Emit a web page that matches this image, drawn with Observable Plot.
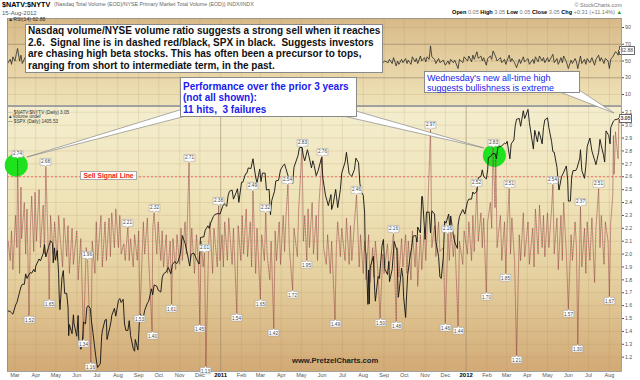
<!DOCTYPE html>
<html><head><meta charset="utf-8">
<script src="https://cdn.jsdelivr.net/npm/d3@7"></script>
<script src="https://cdn.jsdelivr.net/npm/@observablehq/plot@0.6"></script>
<style>
html,body{margin:0;padding:0;background:#fff;}
#root{position:relative;width:640px;height:380px;overflow:hidden;font-family:"Liberation Sans",Arial,sans-serif;}
.abs{position:absolute;white-space:nowrap;}
g[aria-label="tip"] path{filter:none !important;}
.box{position:absolute;background:#fff;border:1px solid #8a8a8a;box-sizing:border-box;white-space:nowrap;}
.leg{position:absolute;left:8px;font-size:4.6px;line-height:4.6px;height:4.6px;color:#333;white-space:nowrap;}
</style></head><body>
<div id="root">
  <div class="abs" style="left:7px;top:18px;width:614px;height:87px;background:linear-gradient(to bottom,#d8b987 0%,#e6d2a4 55%,#efe2b8 100%);"></div>
  <div class="abs" style="left:7px;top:106px;width:614px;height:265px;background:linear-gradient(to bottom,#f4eecf 0%,#efe3b8 35%,#e5d09f 65%,#d2aa76 100%);"></div>
  <div id="plots"></div>
  <svg class="abs" style="left:0;top:0" width="640" height="380">
    <polygon points="186,108 186,116 27,157" fill="#fff" stroke="#888" stroke-width="0.7"/>
    <polygon points="343,116 356,111 484,148" fill="#fff" stroke="#888" stroke-width="0.7"/>
    <polygon points="560,92 576,88 614,113" fill="#fff" stroke="#888" stroke-width="0.7"/>
  </svg>
  <div class="abs" style="left:2px;top:0.5px;font-weight:bold;font-size:7.2px;line-height:7.2px;height:7.2px;color:#000">$NATV:$NYTV</div>
  <div class="abs" style="left:54px;top:1.5px;font-size:5.3px;line-height:5.3px;height:5.3px;color:#666">(Nasdaq Total Volume (EOD)/NYSE Primary Market Total Volume (EOD)) INDX/INDX</div>
  <div class="abs" style="left:2px;top:10px;font-size:6px;line-height:6px;height:6px;color:#555">15-Aug-2012</div>
  <div class="abs" style="right:18px;top:1.5px;font-size:5.5px;line-height:6px;color:#777">© StockCharts.com</div>
  <div class="abs" style="right:18px;top:9px;font-size:5.6px;line-height:6px;color:#777"><b style="color:#000">Open</b> 0.05 <b style="color:#000">High</b> 3.05 <b style="color:#000">Low</b> 0.05 <b style="color:#000">Close</b> 3.05 <b style="color:#000">Chg</b> +0.31 (+11.14%) <span style="color:#1a9a1a">▲</span></div>
  <div class="abs" style="left:8px;top:17px;font-size:5.2px;line-height:5.2px;height:5.2px;color:#333">▲RSI(14) 62.88</div>
  <div class="leg" style="top:110.5px">··· $NATV:$NYTV (Daily) 3.05</div>
  <div class="leg" style="top:115px">▲Volume undef</div>
  <div class="leg" style="top:119.5px">— $SPX (Daily) 1405.53</div>
  <div class="box" style="left:25px;top:24px;width:358px;height:49px;padding:0 0 0 2px;font-weight:bold;font-size:10px;line-height:11.6px;color:#111">Nasdaq volume/NYSE volume ratio suggests a strong sell when it reaches<br>2.6.&nbsp; Signal line is in dashed red/black, SPX in black.&nbsp; Suggests investors<br>are chasing high beta stocks. This has often been a precursor to tops,<br>ranging from short to intermediate term, in the past.</div>
  <div class="box" style="left:180px;top:77px;width:177px;height:40px;padding:2.6px 0 0 2px;font-weight:bold;font-size:10px;line-height:11.7px;color:#1a1aee">Performance over the prior 3 years<br>(not all shown):<br>11 hits,&nbsp; 3 failures</div>
  <div class="box" style="left:424px;top:71px;width:156px;height:22px;padding:0.5px 0 0 2px;font-size:9px;line-height:10px;color:#1a1aee">Wednesday's new all-time high<br>suggests bullishness is extreme</div>
  <div class="box" style="left:80px;top:171px;width:57px;height:9px;font-weight:bold;font-size:6.8px;line-height:7px;color:#ee2020;text-align:center;border-color:#aaa">Sell Signal Line</div>
  <div class="abs" style="left:292px;top:356px;font-weight:bold;font-size:7.6px;line-height:9px;color:#222">www.PretzelCharts.com</div>
</div>
<script>
// ---- data ----
const ratio = [
["2010-02-19",2.10],["2010-02-22",1.95],["2010-02-24",2.18],["2010-02-26",1.88],
["2010-03-02",2.30],["2010-03-04",2.05],["2010-03-05",2.74],["2010-03-08",1.85],["2010-03-10",2.52],["2010-03-11",2.12],["2010-03-15",2.40],["2010-03-17",2.00],["2010-03-19",2.35],["2010-03-22",1.52],["2010-03-24",2.20],["2010-03-26",2.45],["2010-03-29",2.02],["2010-03-31",2.48],
["2010-04-02",2.10],["2010-04-06",2.50],["2010-04-08",2.05],["2010-04-12",2.38],["2010-04-14",2.00],["2010-04-16",2.68],["2010-04-19",2.15],["2010-04-21",1.65],["2010-04-23",2.30],["2010-04-27",2.00],["2010-04-29",2.25],
["2010-05-03",1.95],["2010-05-05",2.30],["2010-05-07",2.15],["2010-05-11",1.90],["2010-05-13",2.28],["2010-05-17",1.98],["2010-05-19",2.22],["2010-05-21",1.85],["2010-05-25",2.20],["2010-05-27",1.92],
["2010-06-01",2.18],["2010-06-03",1.80],["2010-06-07",2.12],["2010-06-09",1.75],["2010-06-11",1.34],["2010-06-15",2.05],["2010-06-17",1.96],["2010-06-22",1.16],["2010-06-24",2.10],["2010-06-28",1.85],["2010-06-30",2.25],
["2010-07-02",1.95],["2010-07-07",2.30],["2010-07-09",1.90],["2010-07-13",2.25],["2010-07-15",1.95],["2010-07-19",2.28],["2010-07-21",1.98],["2010-07-23",2.32],["2010-07-27",2.05],["2010-07-29",2.35],
["2010-08-02",2.05],["2010-08-04",2.30],["2010-08-06",2.00],["2010-08-10",2.08],["2010-08-12",1.95],["2010-08-16",2.21],["2010-08-18",1.95],["2010-08-20",2.12],["2010-08-24",1.90],["2010-08-26",2.15],["2010-08-30",1.95],
["2010-09-01",2.18],["2010-09-03",1.53],["2010-09-08",2.25],["2010-09-10",2.00],["2010-09-14",2.28],["2010-09-16",1.95],["2010-09-21",1.40],["2010-09-22",2.20],["2010-09-24",2.32],["2010-09-28",2.00],["2010-09-30",2.25],
["2010-10-04",1.95],["2010-10-06",2.18],["2010-10-08",1.90],["2010-10-12",2.15],["2010-10-14",1.85],["2010-10-18",2.10],["2010-10-20",1.61],["2010-10-22",2.12],["2010-10-26",1.88],["2010-10-28",2.15],
["2010-11-01",1.92],["2010-11-03",2.20],["2010-11-05",1.95],["2010-11-09",2.25],["2010-11-11",2.00],["2010-11-15",2.71],["2010-11-17",1.95],["2010-11-19",2.20],["2010-11-23",1.85],["2010-11-26",2.15],["2010-11-29",1.90],
["2010-12-01",1.45],["2010-12-03",2.10],["2010-12-06",1.90],["2010-12-08",2.01],["2010-12-10",1.13],["2010-12-14",2.05],["2010-12-16",2.25],["2010-12-20",1.85],["2010-12-22",2.20],["2010-12-27",1.90],["2010-12-29",2.38],["2010-12-31",1.95],
["2011-01-03",2.15],["2011-01-05",1.90],["2011-01-07",2.25],["2011-01-11",1.95],["2011-01-13",2.28],["2011-01-18",1.92],["2011-01-20",2.20],["2011-01-25",1.54],["2011-01-27",2.22],["2011-01-31",1.95],
["2011-02-02",2.30],["2011-02-04",2.00],["2011-02-08",2.35],["2011-02-10",1.98],["2011-02-14",2.25],["2011-02-16",1.90],["2011-02-18",2.49],["2011-02-22",1.85],["2011-02-24",2.20],
["2011-03-01",1.65],["2011-03-03",2.15],["2011-03-07",1.95],["2011-03-09",2.32],["2011-03-11",2.00],["2011-03-15",1.80],["2011-03-17",2.10],["2011-03-21",1.42],["2011-03-23",2.18],["2011-03-25",1.95],["2011-03-29",2.25],["2011-03-31",1.92],
["2011-04-04",2.30],["2011-04-06",2.02],["2011-04-08",2.28],["2011-04-11",2.54],["2011-04-13",2.05],["2011-04-18",1.72],["2011-04-20",2.20],["2011-04-25",1.98],["2011-04-27",2.35],
["2011-05-02",2.83],["2011-05-04",2.10],["2011-05-06",2.30],["2011-05-09",1.95],["2011-05-11",2.35],["2011-05-13",2.05],["2011-05-17",2.40],["2011-05-19",2.00],["2011-05-23",2.30],["2011-05-25",1.95],["2011-05-27",2.38],
["2011-06-01",2.76],["2011-06-03",2.05],["2011-06-07",1.92],["2011-06-09",2.15],["2011-06-13",1.85],["2011-06-15",2.10],["2011-06-20",1.49],["2011-06-22",2.05],["2011-06-24",2.25],["2011-06-28",1.98],["2011-06-30",2.20],
["2011-07-05",1.95],["2011-07-07",2.28],["2011-07-11",1.92],["2011-07-13",2.22],["2011-07-15",1.95],["2011-07-19",2.25],["2011-07-22",2.46],["2011-07-26",1.90],["2011-07-28",2.15],
["2011-08-01",1.85],["2011-08-03",2.10],["2011-08-05",1.80],["2011-08-09",2.15],["2011-08-11",1.78],["2011-08-15",2.05],["2011-08-17",1.82],["2011-08-19",2.10],["2011-08-23",1.85],["2011-08-26",1.50],["2011-08-30",2.00],
["2011-09-01",1.85],["2011-09-06",2.08],["2011-09-08",1.88],["2011-09-12",2.02],["2011-09-15",2.16],["2011-09-19",1.48],["2011-09-21",2.05],["2011-09-23",1.82],["2011-09-27",2.12],["2011-09-29",1.90],
["2011-10-03",2.15],["2011-10-05",1.85],["2011-10-07",2.10],["2011-10-11",1.80],["2011-10-13",2.18],["2011-10-17",1.90],["2011-10-19",2.12],["2011-10-21",1.75],["2011-10-25",2.15],["2011-10-27",1.88],["2011-10-31",2.20],
["2011-11-02",1.95],["2011-11-04",2.20],["2011-11-09",2.97],["2011-11-11",2.05],["2011-11-15",2.22],["2011-11-17",1.98],["2011-11-21",2.25],["2011-11-23",2.02],["2011-11-28",2.05],
["2011-12-01",1.46],["2011-12-05",2.16],["2011-12-07",1.95],["2011-12-09",2.20],["2011-12-13",1.98],["2011-12-15",2.15],["2011-12-20",1.44],["2011-12-22",2.10],["2011-12-27",1.92],["2011-12-29",2.18],
["2012-01-03",2.00],["2012-01-05",2.25],["2012-01-09",1.95],["2012-01-11",2.30],["2012-01-13",2.02],["2012-01-17",2.52],["2012-01-19",2.10],["2012-01-23",2.32],["2012-01-25",2.05],["2012-01-27",2.28],["2012-01-31",1.70],
["2012-02-02",2.25],["2012-02-06",2.40],["2012-02-08",2.20],["2012-02-10",2.83],["2012-02-13",2.36],["2012-02-14",2.78],["2012-02-16",2.05],["2012-02-21",2.30],["2012-02-23",1.95],["2012-02-27",2.25],["2012-02-29",1.85],
["2012-03-02",2.20],["2012-03-05",2.51],["2012-03-07",2.00],["2012-03-09",2.28],["2012-03-13",1.95],["2012-03-16",1.21],["2012-03-20",2.15],["2012-03-22",1.95],["2012-03-26",2.32],["2012-03-28",1.98],
["2012-04-02",2.25],["2012-04-04",1.92],["2012-04-09",2.20],["2012-04-11",1.90],["2012-04-13",2.35],["2012-04-17",2.00],["2012-04-19",2.38],["2012-04-23",2.05],["2012-04-25",2.30],["2012-04-27",1.98],
["2012-05-01",2.32],["2012-05-03",2.05],["2012-05-07",2.35],["2012-05-09",2.54],["2012-05-11",2.00],["2012-05-15",2.28],["2012-05-17",1.88],["2012-05-21",2.30],["2012-05-23",1.95],["2012-05-25",2.40],["2012-05-29",2.00],
["2012-06-01",1.57],["2012-06-05",2.15],["2012-06-07",1.95],["2012-06-11",2.25],["2012-06-13",2.05],["2012-06-15",1.30],["2012-06-19",2.37],["2012-06-21",1.90],["2012-06-25",2.20],["2012-06-27",1.85],["2012-06-29",2.25],
["2012-07-03",1.95],["2012-07-06",2.28],["2012-07-10",1.78],["2012-07-12",2.20],["2012-07-16",2.51],["2012-07-18",2.05],["2012-07-20",2.30],["2012-07-24",1.92],["2012-07-26",2.25],["2012-07-30",2.10],
["2012-08-01",1.67],["2012-08-03",2.25],["2012-08-06",2.45],["2012-08-07",2.92],["2012-08-08",2.62],["2012-08-09",2.75],["2012-08-10",2.95],["2012-08-13",2.78],["2012-08-14",2.74],["2012-08-15",3.05]
];
const peakDates = ["2010-03-05","2010-04-16","2010-06-17","2010-08-16","2010-09-24","2010-11-15","2010-12-08","2010-12-29","2011-02-18","2011-03-09","2011-04-11","2011-05-02","2011-06-01","2011-07-22","2011-09-15","2011-11-09","2011-12-05","2012-01-17","2012-02-10","2012-03-05","2012-05-09","2012-06-19","2012-07-16"];
const troughDates = ["2010-03-22","2010-04-21","2010-06-11","2010-06-22","2010-09-03","2010-09-21","2010-10-20","2010-12-01","2010-12-10","2011-01-25","2011-03-01","2011-03-21","2011-04-18","2011-05-09","2011-06-20","2011-08-26","2011-09-19","2011-12-01","2011-12-20","2012-01-31","2012-02-29","2012-03-16","2012-06-01","2012-06-15","2012-08-01"];
const spx = [
["2010-02-19",1109],["2010-02-22",1108],["2010-02-24",1106],["2010-02-26",1104],["2010-03-02",1118],["2010-03-04",1122],["2010-03-08",1138],["2010-03-10",1146],["2010-03-12",1150],["2010-03-15",1150],["2010-03-17",1166],["2010-03-19",1159],["2010-03-22",1165],["2010-03-24",1168],["2010-03-26",1167],["2010-03-29",1173],["2010-03-31",1169],
["2010-04-01",1178],["2010-04-06",1189],["2010-04-08",1186],["2010-04-12",1197],["2010-04-14",1211],["2010-04-16",1192],["2010-04-20",1207],["2010-04-23",1217],["2010-04-26",1213],["2010-04-27",1183],["2010-04-29",1206],["2010-04-30",1187],
["2010-05-03",1202],["2010-05-05",1166],["2010-05-06",1128],["2010-05-07",1111],["2010-05-10",1160],["2010-05-12",1171],["2010-05-14",1136],["2010-05-17",1136],["2010-05-19",1115],["2010-05-20",1071],["2010-05-21",1088],["2010-05-25",1074],["2010-05-27",1103],["2010-05-28",1089],
["2010-06-01",1070],["2010-06-03",1102],["2010-06-04",1065],["2010-06-07",1050],["2010-06-09",1056],["2010-06-11",1092],["2010-06-14",1089],["2010-06-16",1114],["2010-06-18",1117],["2010-06-21",1113],["2010-06-23",1092],["2010-06-25",1076],["2010-06-29",1041],
["2010-07-01",1027],["2010-07-02",1022],["2010-07-06",1028],["2010-07-08",1070],["2010-07-09",1078],["2010-07-13",1095],["2010-07-15",1096],["2010-07-16",1065],["2010-07-20",1083],["2010-07-22",1093],["2010-07-23",1102],["2010-07-27",1113],["2010-07-29",1101],
["2010-08-02",1125],["2010-08-04",1128],["2010-08-06",1122],["2010-08-09",1127],["2010-08-11",1089],["2010-08-13",1079],["2010-08-16",1079],["2010-08-18",1094],["2010-08-20",1071],["2010-08-24",1051],["2010-08-26",1047],["2010-08-27",1065],["2010-08-31",1049],
["2010-09-02",1090],["2010-09-03",1104],["2010-09-08",1099],["2010-09-10",1110],["2010-09-14",1121],["2010-09-16",1124],["2010-09-20",1143],["2010-09-22",1134],["2010-09-24",1149],["2010-09-28",1147],["2010-09-30",1141],
["2010-10-04",1138],["2010-10-06",1160],["2010-10-08",1166],["2010-10-12",1169],["2010-10-15",1176],["2010-10-19",1166],["2010-10-21",1180],["2010-10-25",1185],["2010-10-27",1182],["2010-10-29",1183],
["2010-11-02",1197],["2010-11-05",1225],["2010-11-09",1213],["2010-11-12",1199],["2010-11-16",1178],["2010-11-18",1196],["2010-11-22",1198],["2010-11-26",1189],["2010-11-30",1181],
["2010-12-02",1222],["2010-12-07",1223],["2010-12-09",1233],["2010-12-13",1240],["2010-12-15",1236],["2010-12-17",1244],["2010-12-21",1254],["2010-12-23",1257],["2010-12-28",1259],["2010-12-31",1258],
["2011-01-04",1270],["2011-01-06",1274],["2011-01-10",1270],["2011-01-12",1286],["2011-01-14",1293],["2011-01-18",1295],["2011-01-20",1281],["2011-01-24",1291],["2011-01-26",1297],["2011-01-28",1276],
["2011-02-01",1307],["2011-02-03",1307],["2011-02-07",1320],["2011-02-09",1321],["2011-02-11",1329],["2011-02-15",1328],["2011-02-18",1343],["2011-02-22",1315],["2011-02-24",1306],["2011-02-28",1327],
["2011-03-02",1308],["2011-03-04",1321],["2011-03-08",1321],["2011-03-10",1295],["2011-03-14",1296],["2011-03-16",1257],["2011-03-18",1279],["2011-03-22",1293],["2011-03-24",1309],["2011-03-28",1310],["2011-03-31",1326],
["2011-04-04",1333],["2011-04-06",1335],["2011-04-08",1328],["2011-04-12",1314],["2011-04-14",1314],["2011-04-18",1305],["2011-04-20",1330],["2011-04-26",1348],["2011-04-28",1360],
["2011-05-02",1361],["2011-05-04",1347],["2011-05-06",1340],["2011-05-10",1357],["2011-05-12",1348],["2011-05-16",1329],["2011-05-18",1340],["2011-05-20",1333],["2011-05-23",1317],["2011-05-26",1325],["2011-05-31",1345],
["2011-06-02",1313],["2011-06-06",1286],["2011-06-08",1279],["2011-06-10",1271],["2011-06-14",1288],["2011-06-15",1265],["2011-06-17",1272],["2011-06-21",1296],["2011-06-24",1268],["2011-06-28",1296],["2011-06-30",1321],
["2011-07-05",1338],["2011-07-07",1353],["2011-07-11",1320],["2011-07-13",1318],["2011-07-15",1316],["2011-07-19",1327],["2011-07-21",1344],["2011-07-25",1337],["2011-07-27",1305],["2011-07-29",1292],
["2011-08-01",1287],["2011-08-03",1261],["2011-08-04",1200],["2011-08-05",1199],["2011-08-08",1119],["2011-08-09",1172],["2011-08-10",1120],["2011-08-11",1172],["2011-08-12",1179],["2011-08-16",1193],["2011-08-18",1140],["2011-08-19",1124],["2011-08-23",1162],["2011-08-25",1159],["2011-08-29",1210],["2011-08-31",1219],
["2011-09-02",1174],["2011-09-06",1165],["2011-09-08",1185],["2011-09-09",1154],["2011-09-13",1173],["2011-09-16",1216],["2011-09-20",1202],["2011-09-22",1130],["2011-09-23",1136],["2011-09-27",1175],["2011-09-29",1160],["2011-09-30",1131],
["2011-10-03",1099],["2011-10-04",1123],["2011-10-06",1164],["2011-10-10",1195],["2011-10-12",1207],["2011-10-14",1224],["2011-10-18",1225],["2011-10-20",1215],["2011-10-21",1238],["2011-10-25",1229],["2011-10-27",1285],["2011-10-28",1285],
["2011-11-01",1219],["2011-11-03",1261],["2011-11-07",1261],["2011-11-09",1229],["2011-11-11",1263],["2011-11-15",1258],["2011-11-17",1216],["2011-11-21",1193],["2011-11-23",1161],["2011-11-25",1159],["2011-11-28",1192],["2011-11-30",1247],
["2011-12-02",1244],["2011-12-06",1258],["2011-12-08",1234],["2011-12-09",1255],["2011-12-13",1225],["2011-12-15",1215],["2011-12-19",1205],["2011-12-20",1241],["2011-12-22",1254],["2011-12-27",1265],["2011-12-30",1258],
["2012-01-03",1277],["2012-01-05",1281],["2012-01-09",1281],["2012-01-11",1292],["2012-01-13",1289],["2012-01-17",1293],["2012-01-19",1314],["2012-01-23",1316],["2012-01-25",1326],["2012-01-27",1316],["2012-01-31",1312],
["2012-02-02",1326],["2012-02-03",1345],["2012-02-07",1347],["2012-02-09",1351],["2012-02-13",1351],["2012-02-15",1343],["2012-02-17",1361],["2012-02-21",1362],["2012-02-23",1363],["2012-02-27",1367],["2012-02-29",1366],
["2012-03-02",1370],["2012-03-06",1343],["2012-03-08",1366],["2012-03-12",1372],["2012-03-14",1394],["2012-03-16",1404],["2012-03-20",1405],["2012-03-22",1393],["2012-03-26",1417],["2012-03-28",1405],
["2012-04-02",1419],["2012-04-04",1399],["2012-04-10",1358],["2012-04-12",1387],["2012-04-16",1369],["2012-04-18",1385],["2012-04-20",1379],["2012-04-23",1366],["2012-04-25",1391],["2012-04-27",1403],
["2012-05-01",1406],["2012-05-03",1391],["2012-05-07",1370],["2012-05-09",1354],["2012-05-11",1353],["2012-05-15",1330],["2012-05-17",1305],["2012-05-18",1295],["2012-05-22",1316],["2012-05-24",1320],["2012-05-29",1332],["2012-05-31",1310],
["2012-06-01",1278],["2012-06-04",1278],["2012-06-06",1316],["2012-06-08",1325],["2012-06-12",1325],["2012-06-14",1329],["2012-06-18",1344],["2012-06-19",1357],["2012-06-21",1325],["2012-06-25",1313],["2012-06-27",1332],["2012-06-29",1362],
["2012-07-03",1375],["2012-07-06",1355],["2012-07-10",1341],["2012-07-12",1334],["2012-07-16",1353],["2012-07-18",1373],["2012-07-20",1363],["2012-07-23",1350],["2012-07-25",1338],["2012-07-27",1386],["2012-07-31",1379],
["2012-08-02",1366],["2012-08-03",1391],["2012-08-07",1401],["2012-08-09",1403],["2012-08-13",1404],["2012-08-15",1405.53]
];
const rsi = [
["2010-02-19",48],["2010-02-22",52],["2010-02-24",46],["2010-02-26",55],["2010-03-01",50],["2010-03-03",58],["2010-03-05",65],["2010-03-08",50],["2010-03-10",57],["2010-03-12",47],["2010-03-16",54],["2010-03-19",49],
["2010-03-26",55],["2010-04-02",50],["2010-04-09",56],["2010-04-16",60],["2010-04-23",48],["2010-04-30",53],["2010-05-07",47],["2010-05-14",55],["2010-05-21",46],["2010-05-28",52],["2010-06-04",48],["2010-06-11",44],["2010-06-18",53],["2010-06-25",45],
["2010-07-02",50],["2010-07-09",54],["2010-07-16",49],["2010-07-23",55],["2010-07-30",51],["2010-08-06",53],["2010-08-13",49],["2010-08-20",55],["2010-08-27",47],["2010-09-03",50],["2010-09-10",45],["2010-09-17",53],["2010-09-24",56],
["2010-10-01",50],["2010-10-08",52],["2010-10-15",48],["2010-10-22",46],["2010-10-29",52],["2010-11-05",50],["2010-11-12",54],["2010-11-19",60],["2010-11-26",50],["2010-12-03",46],["2010-12-10",43],["2010-12-17",51],["2010-12-24",49],["2010-12-31",55],
["2011-01-07",50],["2011-01-14",53],["2011-01-21",49],["2011-01-28",46],["2011-02-04",54],["2011-02-11",51],["2011-02-18",57],["2011-02-25",48],["2011-03-04",47],["2011-03-11",53],["2011-03-18",45],["2011-03-25",50],
["2011-04-01",52],["2011-04-08",55],["2011-04-15",53],["2011-04-22",49],["2011-04-29",58],["2011-05-06",55],["2011-05-13",52],["2011-05-20",56],["2011-05-27",53],["2011-06-03",60],["2011-06-10",50],["2011-06-17",48],["2011-06-24",46],
["2011-07-01",51],["2011-07-08",49],["2011-07-15",52],["2011-07-22",56],["2011-07-29",50],["2011-08-05",47],["2011-08-12",49],["2011-08-19",46],["2011-08-26",45],["2011-09-02",50],
["2011-09-07",48],["2011-09-09",52],["2011-09-13",47],["2011-09-15",54],["2011-09-19",44],["2011-09-21",50],["2011-09-23",46],["2011-09-27",52],["2011-09-29",48],
["2011-10-03",53],["2011-10-05",47],["2011-10-07",51],["2011-10-11",46],["2011-10-13",55],["2011-10-17",49],["2011-10-19",53],["2011-10-21",47],["2011-10-25",56],["2011-10-27",50],["2011-10-31",54],
["2011-11-02",49],["2011-11-04",55],["2011-11-07",52],["2011-11-09",68],["2011-11-11",55],["2011-11-15",52],["2011-11-17",47],["2011-11-21",53],["2011-11-23",48],["2011-11-28",51],
["2011-12-01",45],["2011-12-05",50],["2011-12-07",46],["2011-12-09",52],["2011-12-13",48],["2011-12-15",51],["2011-12-20",41],["2011-12-22",52],["2011-12-27",48],["2011-12-29",55],
["2012-01-03",50],["2012-01-05",56],["2012-01-09",49],["2012-01-11",57],["2012-01-13",52],["2012-01-17",61],["2012-01-19",53],["2012-01-23",56],["2012-01-25",50],["2012-01-27",54],["2012-01-31",45],
["2012-02-02",53],["2012-02-06",56],["2012-02-08",52],["2012-02-10",62],["2012-02-14",55],["2012-02-16",50],["2012-02-21",54],["2012-02-23",48],["2012-02-27",52],["2012-02-29",46],
["2012-03-02",51],["2012-03-05",57],["2012-03-07",49],["2012-03-09",53],["2012-03-13",48],["2012-03-16",42],["2012-03-20",52],["2012-03-22",47],["2012-03-26",55],["2012-03-28",49],
["2012-04-02",53],["2012-04-04",46],["2012-04-09",52],["2012-04-11",47],["2012-04-13",55],["2012-04-17",49],["2012-04-19",56],["2012-04-23",50],["2012-04-25",54],["2012-04-27",48],
["2012-05-01",54],["2012-05-03",49],["2012-05-07",55],["2012-05-09",58],["2012-05-11",48],["2012-05-15",53],["2012-05-17",46],["2012-05-21",54],["2012-05-23",48],["2012-05-25",56],["2012-05-29",49],
["2012-06-01",41],["2012-06-05",51],["2012-06-07",47],["2012-06-11",53],["2012-06-13",49],["2012-06-15",41],["2012-06-19",56],["2012-06-21",47],["2012-06-25",52],["2012-06-27",46],["2012-06-29",53],
["2012-07-03",48],["2012-07-06",54],["2012-07-10",45],["2012-07-12",52],["2012-07-16",57],["2012-07-18",50],["2012-07-20",54],["2012-07-24",47],["2012-07-26",53],["2012-07-30",50],
["2012-08-01",41],["2012-08-03",52],["2012-08-06",55],["2012-08-08",58],["2012-08-10",61],["2012-08-13",59],["2012-08-14",57],["2012-08-15",62.88]
];
const greenCircles = [["2010-03-03",2.69],["2012-02-12",2.765]];
const sellSignal = 2.6;
const yTicks = [1.2,1.3,1.4,1.5,1.6,1.7,1.8,1.9,2.0,2.1,2.2,2.3,2.4,2.5,2.6,2.7,2.8,2.9,3.0,3.1];
const rsiTicks = [10,30,50,70,90];
const xTickLabels = ["Mar","Apr","May","Jun","Jul","Aug","Sep","Oct","Nov","Dec","2011","Feb","Mar","Apr","May","Jun","Jul","Aug","Sep","Oct","Nov","Dec","2012","Feb","Mar","Apr","May","Jun","Jul","Aug"];
const firstTickMonth = "2010-03-01";

// ---- build ----
const parse = d3.utcParse("%Y-%m-%d");
const R = ratio.map(([d, v]) => ({key: d, date: parse(d), value: v}));
const S = spx.map(([d, v]) => ({date: parse(d), value: v}));
const RS = rsi.map(([d, v]) => ({date: parse(d), value: v}));
const byDate = new Map(R.map(d => [d.key, d]));
const peaks = peakDates.map(d => byDate.get(d));
const troughs = troughDates.map(d => byDate.get(d));
const circles = greenCircles.map(([d, v]) => ({date: parse(d), value: v}));
const months = xTickLabels.map((t, i) => ({date: d3.utcMonth.offset(parse(firstTickMonth), i), label: t, year: /^\d{4}$/.test(t)}));
const xDomain = [parse("2010-02-18"), parse("2012-08-19")];
const lastR = R[R.length - 1], lastRSI = RS[RS.length - 1];

const base = {width: 640, marginLeft: 7, marginRight: 19,
  style: {background: "transparent", fontFamily: "Liberation Sans, Arial, sans-serif", overflow: "visible", color: "#444"}};
const gridStroke = "#a88a5a";

const rsiPlot = Plot.plot({...base, height: 106, marginTop: 18, marginBottom: 1,
  x: {type: "utc", domain: xDomain, axis: null},
  y: {domain: [-3.13, 100.75]},
  marks: [
    Plot.gridX(months.map(d => d.date), {stroke: gridStroke, strokeOpacity: 0.3, strokeWidth: 0.6}),
    Plot.gridY(rsiTicks, {stroke: gridStroke, strokeOpacity: 0.3, strokeWidth: 0.6}),
    Plot.ruleY([30, 70], {stroke: "#8a7a66", strokeOpacity: 0.7, strokeWidth: 0.7}),
    Plot.ruleY([50], {stroke: "#8a7a66", strokeOpacity: 0.6, strokeWidth: 0.6, strokeDasharray: "2,2"}),
    Plot.line(RS, {x: "date", y: "value", stroke: "#2a2a2a", strokeWidth: 0.8}),
    Plot.axisY(rsiTicks, {anchor: "right", tickSize: 2, tickPadding: 1.5, fontSize: 5.2, label: null, color: "#555"}),
    Plot.tip([lastRSI], {x: "date", y: "value", title: d => d.value.toFixed(2), anchor: "left", fontSize: 5, textPadding: 1, pointerSize: 2, fill: "#fff", stroke: "#000", strokeWidth: 0.6}),
    Plot.frame({stroke: "#8c8c8c", strokeWidth: 0.8})
  ]});

const mainPlot = Plot.plot({...base, height: 380, marginTop: 106, marginBottom: 9,
  x: {type: "utc", domain: xDomain, axis: null},
  y: {domain: [1.089, 3.145]},
  marks: [
    Plot.gridX(months.map(d => d.date), {stroke: gridStroke, strokeOpacity: 0.3, strokeWidth: 0.6}),
    Plot.ruleX(months.filter(d => d.year), {x: "date", stroke: "#8a7a60", strokeOpacity: 0.55, strokeWidth: 0.7}),
    Plot.gridY(yTicks, {stroke: gridStroke, strokeOpacity: 0.3, strokeWidth: 0.6}),
    Plot.dot(circles, {x: "date", y: "value", r: 11.5, fill: "#1fe21f", stroke: "none"}),
    Plot.ruleY([sellSignal], {stroke: "#f06464", strokeWidth: 0.9, strokeDasharray: "2,2"}),
    Plot.line(R, {x: "date", y: "value", stroke: "#d85050", strokeWidth: 0.8, strokeDasharray: "0.9,2.1", strokeOpacity: 0.75}),
    Plot.line(R, {x: "date", y: "value", stroke: "#4a4040", strokeWidth: 0.8, strokeDasharray: "0.9,2.1", strokeDashoffset: 1.5, strokeOpacity: 0.55}),
    Plot.axisY(yTicks, {anchor: "right", tickSize: 2, tickPadding: 1.5, fontSize: 5.2, label: null, color: "#555", tickFormat: d => d.toFixed(1)}),
    Plot.text(months.filter(d => !d.year), {x: "date", text: "label", frameAnchor: "bottom", dy: 5.8, fontSize: 5.5, fill: "#555"}),
    Plot.text(months.filter(d => d.year), {x: "date", text: "label", frameAnchor: "bottom", dy: 5.8, fontSize: 6, fontWeight: "bold", fill: "#000"}),
    Plot.frame({stroke: "#8c8c8c", strokeWidth: 0.8})
  ]});

const spxPlot = Plot.plot({...base, height: 380, marginTop: 106, marginBottom: 9,
  x: {type: "utc", domain: xDomain, axis: null},
  y: {domain: [1015.8, 1423.5], axis: null},
  marks: [Plot.line(S, {x: "date", y: "value", stroke: "#111", strokeWidth: 0.9})]});

const labelPlot = Plot.plot({...base, height: 380, marginTop: 106, marginBottom: 9,
  x: {type: "utc", domain: xDomain, axis: null},
  y: {domain: [1.089, 3.145], axis: null},
  marks: [
    Plot.tip(peaks, {x: "date", y: "value", title: d => d.value.toFixed(2), anchor: "bottom", fontSize: 4.6, textPadding: 0.9, pointerSize: 2.5, fill: "#fff", stroke: "#999", strokeWidth: 0.5}),
    Plot.tip(troughs, {x: "date", y: "value", title: d => d.value.toFixed(2), anchor: "top", fontSize: 4.6, textPadding: 0.8, pointerSize: 1.8, fill: "#fff", stroke: "#999", strokeWidth: 0.5}),
    Plot.tip([lastR], {x: "date", y: "value", title: d => d.value.toFixed(2), anchor: "left", fontSize: 5.2, fontWeight: "bold", textPadding: 1, pointerSize: 2, fill: "#fff", stroke: "#000", strokeWidth: 0.6})
  ]});

const holder = document.getElementById("plots");
for (const p of [rsiPlot, mainPlot, spxPlot, labelPlot]) {
  p.style.position = "absolute"; p.style.left = "0px"; p.style.top = "0px";
  holder.appendChild(p);
}
</script>
</body></html>
